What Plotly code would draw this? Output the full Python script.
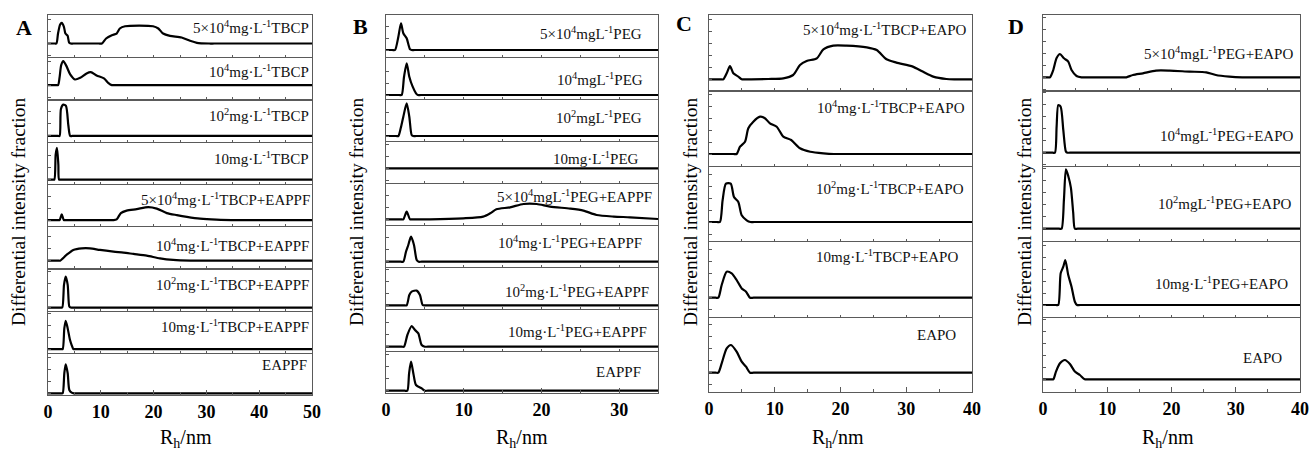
import plotly.graph_objects as go

# ---------------- data (intensity in arbitrary units) -------------
# Panel A  (R_h 0-50 nm)
a1_x = [0, 1.3, 1.6, 1.9, 2.3, 2.6, 3.0, 3.3, 3.7, 4.0, 4.3, 4.8, 9.6, 10.2, 11.0, 12.1, 13.0, 13.6, 14.6, 19.9, 20.9, 21.8, 23.1, 25.3, 26.9, 28.2, 30.5, 31.5, 50]
a1_y = [0, 0, 0, 10, 19, 20.7, 17, 10, 8, 1, 0, 0, 0, 0, 5, 8.3, 10, 15, 17.3, 17.3, 15, 10, 7.7, 6, 2.7, 0.7, 0, 0, 0]
a2_x = [0, 1.5, 1.9, 2.2, 2.5, 2.9, 3.5, 4.2, 5.1, 6.1, 7.3, 8.1, 9.2, 10.6, 11.4, 12.1, 12.6, 50]
a2_y = [0, 0, 0, 8, 20, 24, 19, 10.7, 5.7, 7.3, 11.7, 13, 9.7, 6.7, 2.3, 0, 0, 0]
a3_x = [0, 1.9, 2.2, 2.45, 2.9, 3.4, 3.85, 4.2, 4.6, 50]
a3_y = [0, 0, 0, 27, 31.3, 30, 10.7, 0, 0, 0]
a4_x = [0, 0.9, 1.2, 1.45, 1.7, 1.96, 2.1, 2.5, 50]
a4_y = [0, 0, 0, 25, 31.7, 15, 0, 0, 0]
a5_x = [0, 1.9, 2.2, 2.6, 3.0, 3.3, 12.0, 12.4, 13.0, 13.8, 14.9, 16.8, 19.0, 20.6, 22.5, 24.4, 26.3, 28.8, 31.9, 36, 37, 50]
a5_y = [0, 0, 0, 5.7, 0, 0, 0, 0, 0.7, 7, 9.5, 11, 13, 11.5, 7, 5, 3.3, 1.5, 0.5, 0, 0, 0]
a6_x = [0, 1.9, 2.3, 3.5, 4.8, 6.4, 7.95, 9.85, 12.4, 14.3, 16.2, 18.7, 21.2, 23.7, 27, 28, 50]
a6_y = [0, 0, 0, 5.7, 10.7, 12.3, 12.3, 10.7, 9, 8, 6.7, 5, 2.3, 0.7, 0, 0, 0]
a7_x = [0, 2.4, 2.7, 3.03, 3.35, 3.73, 4.04, 4.3, 4.7, 50]
a7_y = [0, 0, 0, 22.7, 31, 22.7, 1, 0, 0, 0]
a8_x = [0, 2.5, 2.78, 3.09, 3.35, 3.73, 4.17, 4.48, 4.8, 5.2, 50]
a8_y = [0, 0, 0, 20.7, 28.3, 20.7, 9, 4, 0, 0, 0]
a9_x = [0, 2.5, 2.78, 3.09, 3.35, 3.73, 4.04, 4.48, 4.9, 5.3, 50]
a9_y = [0, 0, 0, 20, 29, 20, 3.3, 0.7, 0, 0, 0]

# Panel B  (R_h 0-35 nm)
b1_x = [0, 0.8, 1.16, 1.59, 1.93, 2.23, 2.66, 3.09, 3.3, 3.7, 35]
b1_y = [0, 0, 0, 13.3, 26.7, 16.7, 11.7, 0.7, 0, 0, 0]
b2_x = [0, 1.7, 2.02, 2.32, 2.66, 3.0, 3.43, 3.86, 4.1, 4.5, 35]
b2_y = [0, 0, 0, 18.3, 31.7, 18.3, 8.3, 1.7, 0, 0, 0]
b3_x = [0, 1.3, 1.59, 1.89, 2.23, 2.66, 3.0, 3.3, 3.5, 3.9, 35]
b3_y = [0, 0, 0, 7.7, 19.3, 32.7, 19.3, 1, 0, 0, 0]
b4_x = [0, 35]
b4_y = [0, 0]
b5_x = [0, 1.9, 2.23, 2.66, 3.09, 3.4, 5.66, 9.95, 12.5, 13.4, 14.2, 15.96, 17.7, 19.4, 21.1, 23.7, 25.4, 27.1, 29.3, 31.4, 35]
b5_y = [0, 0, 0, 7.7, 0, 0, 0, 1, 2.7, 6, 10, 12, 15.3, 15.3, 12.7, 10.7, 8.7, 4.3, 2.7, 2, 0.3]
b6_x = [0, 1.9, 2.23, 2.57, 2.87, 3.22, 3.6, 3.95, 4.2, 4.6, 35]
b6_y = [0, 0, 0, 10, 16.7, 25, 16.7, 1.7, 0, 0, 0]
b7_x = [0, 2.3, 2.66, 3.0, 3.3, 3.95, 4.37, 4.72, 5.0, 5.4, 35]
b7_y = [0, 0, 0, 10.3, 13.7, 14.7, 10.3, 0.3, 0, 0, 0]
b8_x = [0, 2.0, 2.32, 2.75, 3.3, 3.73, 4.16, 4.59, 5.0, 5.4, 35]
b8_y = [0, 0, 0, 11.7, 20.7, 16.7, 13.3, 1.7, 0, 0, 0]
b9_x = [0, 2.4, 2.75, 2.97, 3.22, 3.52, 3.86, 4.59, 5.0, 5.4, 35]
b9_y = [0, 0, 0, 17.3, 29, 17.3, 5.7, 2.3, 0, 0, 0]

# Panel C  (R_h 0-40 nm)
c1_x = [0, 1.7, 2.18, 2.69, 3.19, 3.7, 4.46, 4.97, 5.6, 9.0, 11.3, 12.8, 13.84, 14.85, 16.4, 17.4, 18.9, 20.9, 24.0, 25.5, 27.0, 28.5, 31.0, 32.5, 34.1, 36.1, 37.5, 40]
c1_y = [0, 0, 0, 6, 13.3, 6, 2.7, 0, 0, 0.3, 1, 4.3, 14.3, 18.3, 21, 30, 33.7, 33.7, 32, 29.3, 20, 16.7, 12.7, 7.7, 2.7, 0.3, 0, 0]
c2_x = [0, 3.7, 4.2, 4.72, 5.48, 5.98, 6.74, 7.76, 8.5, 9.27, 10.3, 11.3, 12.5, 13.84, 15.4, 17.4, 19, 20, 40]
c2_y = [0, 0, 0, 7.3, 12.3, 25.7, 32.3, 37.3, 35.7, 30.7, 27.3, 17.3, 14, 5.7, 2.3, 0.7, 0, 0, 0]
c3_x = [0, 1.2, 1.67, 2.07, 2.58, 3.3, 3.8, 4.46, 4.97, 5.73, 6.3, 6.9, 40]
c3_y = [0, 0, 0, 21.7, 38.3, 38.3, 25, 20, 6.7, 1.7, 0, 0, 0]
c4_x = [0, 1.0, 1.42, 1.93, 2.69, 3.45, 4.2, 4.97, 5.63, 6.24, 6.8, 40]
c4_y = [0, 0, 0, 12.7, 26, 24.3, 17.7, 9.3, 6, 0, 0, 0]
c5_x = [0, 1.0, 1.42, 1.93, 2.69, 3.35, 4.2, 4.97, 5.63, 6.24, 6.8, 40]
c5_y = [0, 0, 0, 9.3, 24.3, 27.7, 21, 11, 6, 0, 0, 0]

# Panel D  (R_h 0-40 nm)
d1_x = [0, 0.7, 1.09, 1.6, 2.1, 2.64, 3.26, 3.93, 4.44, 5.22, 6.0, 6.6, 12.4, 12.97, 14.0, 15.55, 17.6, 19.7, 22.8, 25.4, 26.9, 29.0, 31, 32, 40]
d1_y = [0, 0, 0, 7.3, 19, 23.3, 19, 15.7, 7.3, 1.3, 0, 0, 0, 0, 2.3, 4, 6.7, 6.7, 5.7, 5, 2.3, 0.7, 0, 0, 0]
d2_x = [0, 1.5, 1.86, 2.12, 2.38, 2.75, 3.16, 3.57, 3.8, 4.2, 40]
d2_y = [0, 0, 0, 26, 47.7, 46, 22.7, 1, 0, 0, 0]
d3_x = [0, 2.5, 2.89, 3.26, 3.57, 3.93, 4.34, 4.7, 4.96, 5.4, 40]
d3_y = [0, 0, 0, 29.3, 59.3, 52.7, 41, 16, 0, 0, 0]
d4_x = [0, 2.0, 2.38, 2.75, 3.16, 3.47, 3.93, 4.44, 4.96, 5.3, 5.8, 40]
d4_y = [0, 0, 0, 31.7, 38.3, 45, 30, 18.3, 3.3, 0, 0, 0]
d5_x = [0, 1.2, 1.6, 2.02, 2.64, 3.41, 4.19, 4.96, 5.74, 6.5, 7.1, 40]
d5_y = [0, 0, 0, 7.7, 16, 19.3, 15.3, 7.7, 4.3, 0, 0, 0]

A_labels = ["5×10<sup>4</sup>mg·L<sup>-1</sup>TBCP", "10<sup>4</sup>mg·L<sup>-1</sup>TBCP",
            "10<sup>2</sup>mg·L<sup>-1</sup>TBCP", "10mg·L<sup>-1</sup>TBCP",
            "5×10<sup>4</sup>mg·L<sup>-1</sup>TBCP+EAPPF", "10<sup>4</sup>mg·L<sup>-1</sup>TBCP+EAPPF",
            "10<sup>2</sup>mg·L<sup>-1</sup>TBCP+EAPPF", "10mg·L<sup>-1</sup>TBCP+EAPPF", "EAPPF"]
B_labels = ["5×10<sup>4</sup>mgL<sup>-1</sup>PEG", "10<sup>4</sup>mgL<sup>-1</sup>PEG",
            "10<sup>2</sup>mgL<sup>-1</sup>PEG", "10mg·L<sup>-1</sup>PEG",
            "5×10<sup>4</sup>mgL<sup>-1</sup>PEG+EAPPF", "10<sup>4</sup>mg·L<sup>-1</sup>PEG+EAPPF",
            "10<sup>2</sup>mg·L<sup>-1</sup>PEG+EAPPF", "10mg·L<sup>-1</sup>PEG+EAPPF", "EAPPF"]
C_labels = ["5×10<sup>4</sup>mg·L<sup>-1</sup>TBCP+EAPO", "10<sup>4</sup>mg·L<sup>-1</sup>TBCP+EAPO",
            "10<sup>2</sup>mg·L<sup>-1</sup>TBCP+EAPO", "10mg·L<sup>-1</sup>TBCP+EAPO", "EAPO"]
D_labels = ["5×10<sup>4</sup>mgL<sup>-1</sup>PEG+EAPO", "10<sup>4</sup>mgL<sup>-1</sup>PEG+EAPO",
            "10<sup>2</sup>mgL<sup>-1</sup>PEG+EAPO", "10mg·L<sup>-1</sup>PEG+EAPO", "EAPO"]

A_ticks = [0, 10, 20, 30, 40, 50]
B_ticks = [0, 10, 20, 30]
C_ticks = [0, 10, 20, 30, 40]
D_ticks = [0, 10, 20, 30, 40]

# ---------------- layout geometry (pixels) -------------
W, H = 1311, 454
FONT = "Liberation Serif, Times New Roman, serif"

panels = [
    dict(letter="A", letter_xy=(24, 27), left=48, right=312, top=15, bottom=395, xmax=50,
         curves=[(a1_x, a1_y), (a2_x, a2_y), (a3_x, a3_y), (a4_x, a4_y), (a5_x, a5_y),
                 (a6_x, a6_y), (a7_x, a7_y), (a8_x, a8_y), (a9_x, a9_y)],
         base=[13.7, 14.3, 5.7, 4.3, 6, 7.7, 3, 3.7, 1.7],
         labels=A_labels, ticks=A_ticks,
         lab_y=[27, 71, 115, 158, 199, 245, 284, 326, 365],
         lab_r=[311, 311, 311, 311, 312, 311, 311, 311, 309],
         ytitle_x=18, xtitle_x=186),
    dict(letter="B", letter_xy=(360, 26), left=386, right=658, top=15, bottom=393, xmax=35,
         curves=[(b1_x, b1_y), (b2_x, b2_y), (b3_x, b3_y), (b4_x, b4_y), (b5_x, b5_y),
                 (b6_x, b6_y), (b7_x, b7_y), (b8_x, b8_y), (b9_x, b9_y)],
         base=[7, 4, 5, 14.7, 5.7, 5.3, 3.7, 4.3, 2.3],
         labels=B_labels, ticks=B_ticks,
         lab_y=[33, 79, 117, 158, 196, 242, 291, 331, 372],
         lab_r=[644, 645, 644, 641, 654, 644, 651, 649, 643],
         ytitle_x=356, xtitle_x=522),
    dict(letter="C", letter_xy=(684, 24), left=709, right=972, top=15, bottom=392, xmax=40,
         curves=[(c1_x, c1_y), (c2_x, c2_y), (c3_x, c3_y), (c4_x, c4_y), (c5_x, c5_y)],
         base=[11.1, 11.8, 19.2, 18.9, 19.3],
         labels=C_labels, ticks=C_ticks,
         lab_y=[29, 107, 188, 256, 335],
         lab_r=[969, 967, 966, 960, 958],
         ytitle_x=690, xtitle_x=838),
    dict(letter="D", letter_xy=(1016, 26), left=1043, right=1300, top=15, bottom=392, xmax=40,
         curves=[(d1_x, d1_y), (d2_x, d2_y), (d3_x, d3_y), (d4_x, d4_y), (d5_x, d5_y)],
         base=[13.1, 13.1, 12.5, 11.6, 12.7],
         labels=D_labels, ticks=D_ticks,
         lab_y=[53, 135, 203, 283, 358],
         lab_r=[1295, 1295, 1293, 1290, 1284],
         ytitle_x=1024, xtitle_x=1168),
]

def px(x):
    return x / W

def py(y):
    return 1 - y / H

fig = go.Figure()
layout = {}
annotations = []
GAP = 1.2
BOX = "#5a5a5a"
n = 0
for p in panels:
    nrows = len(p["curves"])
    rh = (p["bottom"] - p["top"]) / nrows
    for i, (xs, ys) in enumerate(p["curves"]):
        n += 1
        suffix = "" if n == 1 else str(n)
        rtop = p["top"] + i * rh + (GAP if i > 0 else 0)
        rbot = p["top"] + (i + 1) * rh
        hpx = rbot - rtop
        b = p["base"][i]
        last = (i == nrows - 1)
        fig.add_trace(go.Scatter(
            x=xs, y=ys, mode="lines", xaxis="x" + suffix, yaxis="y" + suffix,
            line=dict(color="black", width=2.2, shape="spline", smoothing=0.7),
            showlegend=False, hoverinfo="skip"))
        xa = dict(domain=[px(p["left"]), px(p["right"])], range=[0, p["xmax"]],
                  anchor="y" + suffix, showline=True, linecolor=BOX, linewidth=1,
                  mirror=True, showgrid=False, zeroline=False, ticks="inside",
                  tickcolor=BOX, fixedrange=True, automargin=False)
        if last:
            xa.update(tickvals=p["ticks"], ticktext=[str(t) for t in p["ticks"]],
                      ticklen=5, showticklabels=True,
                      tickfont=dict(family=FONT, size=18, color="black", weight="bold"),
                      minor=dict(ticks="inside", dtick=5, tick0=0, ticklen=3, tickcolor=BOX))
        else:
            xa.update(dtick=5, tick0=0, ticklen=2, showticklabels=False)
        ya = dict(domain=[py(rbot), py(rtop)], range=[-b, hpx - b],
                  anchor="x" + suffix, showline=True, linecolor=BOX, linewidth=1,
                  mirror=True, showgrid=False, zeroline=False, ticks="inside",
                  ticklen=3, tickcolor=BOX, dtick=12, tick0=0, showticklabels=False,
                  fixedrange=True, automargin=False)
        layout["xaxis" + suffix] = xa
        layout["yaxis" + suffix] = ya
        annotations.append(dict(
            text=p["labels"][i], xref="paper", yref="paper",
            x=px(p["lab_r"][i]), y=py(p["lab_y"][i]), xanchor="right", yanchor="middle",
            showarrow=False, font=dict(family=FONT, size=15, color="#111")))
    annotations.append(dict(text="<b>%s</b>" % p["letter"], xref="paper", yref="paper",
                            x=px(p["letter_xy"][0]), y=py(p["letter_xy"][1]),
                            xanchor="center", yanchor="middle", showarrow=False,
                            font=dict(family=FONT, size=22, color="black")))
    annotations.append(dict(text="Differential intensity fraction", xref="paper", yref="paper",
                            x=px(p["ytitle_x"]), y=py(212), xanchor="center", yanchor="middle",
                            textangle=-90, showarrow=False,
                            font=dict(family=FONT, size=19.5, color="black")))
    annotations.append(dict(text="R<sub>h</sub>/nm", xref="paper", yref="paper",
                            x=px(p["xtitle_x"]), y=py(438), xanchor="center", yanchor="middle",
                            showarrow=False, font=dict(family=FONT, size=20, color="black")))

fig.update_layout(
    width=W, height=H, autosize=False,
    margin=dict(l=0, r=0, t=0, b=0, autoexpand=False),
    paper_bgcolor="white", plot_bgcolor="white",
    annotations=annotations, **layout)

fig.write_html("out.html", config={"displayModeBar": False},
               post_script="document.body.style.margin='0px';document.body.style.overflow='hidden';")
